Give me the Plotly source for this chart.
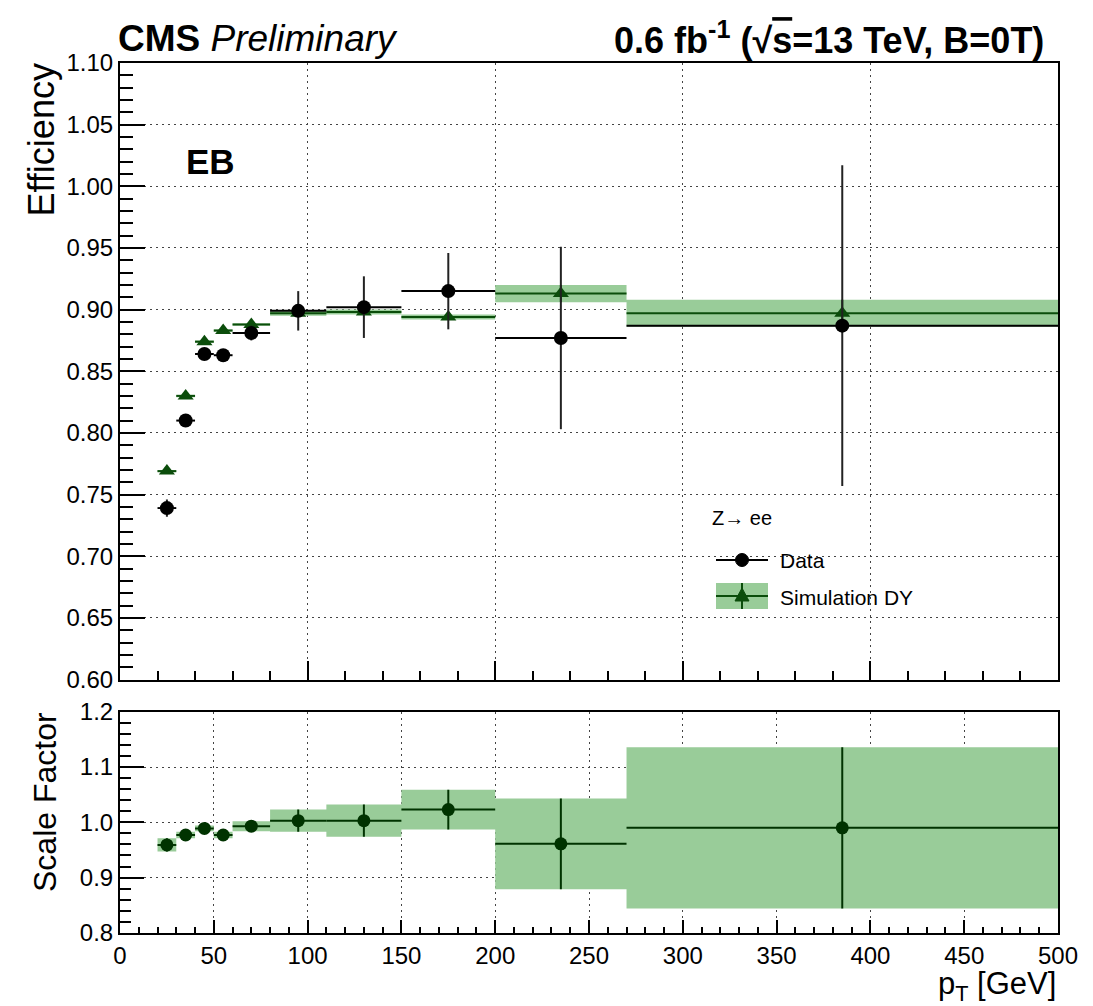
import plotly.graph_objects as go

# ---- pT binning (GeV) ----
bin_lo = [20, 30, 40, 50, 60, 80, 110, 150, 200, 270]
bin_hi = [30, 40, 50, 60, 80, 110, 150, 200, 270, 500]

# ---- efficiencies ----
eff_data = [0.739, 0.810, 0.864, 0.863, 0.881, 0.899, 0.902, 0.915, 0.877, 0.887]
eff_data_err = [0.007, 0.003, 0.003, 0.003, 0.006, 0.016, 0.025, 0.031, 0.074, 0.130]
eff_mc = [0.769, 0.830, 0.874, 0.883, 0.888, 0.897, 0.898, 0.894, 0.913, 0.897]
eff_mc_err = [0.001, 0.001, 0.001, 0.001, 0.001, 0.002, 0.002, 0.002, 0.007, 0.011]

# ---- data/simulation scale factors ----
sf = [0.959, 0.977, 0.989, 0.977, 0.993, 1.003, 1.003, 1.023, 0.961, 0.990]
sf_err = [0.012, 0.006, 0.005, 0.006, 0.009, 0.020, 0.029, 0.036, 0.082, 0.146]

W, H = 1093, 1006
FONT = "Liberation Sans, Arial, Helvetica, sans-serif"
BAND = "#99cc99"
MC_COL = "#0b4d0b"
SF_COL = "#003300"


def px(x):
    return x / W


def py(y):
    return 1 - y / H


centers = [(a + b) / 2 for a, b in zip(bin_lo, bin_hi)]
half_w = [(b - a) / 2 for a, b in zip(bin_lo, bin_hi)]


def band_xy(vals, errs):
    xs, ys = [], []
    for lo, hi, v, e in zip(bin_lo, bin_hi, vals, errs):
        xs += [lo, hi, hi, lo, lo, None]
        ys += [v - e, v - e, v + e, v + e, v - e, None]
    return xs, ys


fig = go.Figure()

# simulation uncertainty band (top)
bx, by = band_xy(eff_mc, eff_mc_err)
fig.add_trace(go.Scatter(x=bx, y=by, mode="lines", fill="toself", fillcolor=BAND,
                         line=dict(width=0), hoverinfo="skip", showlegend=False,
                         xaxis="x", yaxis="y"))

# simulation points
fig.add_trace(go.Scatter(
    x=centers, y=eff_mc, mode="markers",
    marker=dict(symbol="triangle-up", size=14, color=MC_COL),
    error_x=dict(type="data", array=half_w, width=0, thickness=2, color=MC_COL),
    error_y=dict(type="data", array=eff_mc_err, width=0, thickness=2, color=MC_COL),
    showlegend=False, xaxis="x", yaxis="y"))

# data points
fig.add_trace(go.Scatter(
    x=centers, y=eff_data, mode="markers",
    marker=dict(symbol="circle", size=14, color="black"),
    error_x=dict(type="data", array=half_w, width=0, thickness=2, color="black"),
    error_y=dict(type="data", array=eff_data_err, width=0, thickness=2, color="#222222"),
    showlegend=False, xaxis="x", yaxis="y"))

# scale factor band + points (bottom)
sx, sy = band_xy(sf, sf_err)
fig.add_trace(go.Scatter(x=sx, y=sy, mode="lines", fill="toself", fillcolor=BAND,
                         line=dict(width=0), hoverinfo="skip", showlegend=False,
                         xaxis="x2", yaxis="y2"))
fig.add_trace(go.Scatter(
    x=centers, y=sf, mode="markers",
    marker=dict(symbol="circle", size=13, color=SF_COL),
    error_x=dict(type="data", array=half_w, width=0, thickness=2, color=SF_COL),
    error_y=dict(type="data", array=sf_err, width=0, thickness=2, color=SF_COL),
    showlegend=False, xaxis="x2", yaxis="y2"))

XDOM = [px(120), px(1058)]
TOP_DOM = [py(679.5), py(63)]
BOT_DOM = [py(932.8), py(711.8)]

common = dict(showline=True, linecolor="black", linewidth=2, mirror=True,
              ticks="inside", tickcolor="black", tickwidth=1.5, automargin=False,
              showgrid=True, gridcolor="#444444", gridwidth=1.2, griddash="2px,4px",
              zeroline=False, tickfont=dict(family=FONT, size=24, color="black"))

fig.update_layout(
    width=W, height=H, autosize=False,
    margin=dict(l=0, r=0, t=0, b=0, pad=0, autoexpand=False),
    paper_bgcolor="white", plot_bgcolor="white",
    font=dict(family=FONT, color="black"),
    xaxis=dict(domain=XDOM, range=[0, 500], anchor="y", showticklabels=False,
               tick0=0, dtick=100, ticklen=19,
               minor=dict(dtick=20, ticklen=9, ticks="inside", tickcolor="black", showgrid=False),
               **common),
    yaxis=dict(domain=TOP_DOM, range=[0.60, 1.10], anchor="x", tick0=0.6, dtick=0.05,
               tickformat=".2f", ticklen=25,
               minor=dict(dtick=0.01, ticklen=13, ticks="inside", tickcolor="black", showgrid=False),
               **common),
    xaxis2=dict(domain=XDOM, range=[0, 500], anchor="y2", tick0=0, dtick=50, ticklen=13,
                minor=dict(dtick=10, ticklen=6, ticks="inside", tickcolor="black", showgrid=False),
                **common),
    yaxis2=dict(domain=BOT_DOM, range=[0.8, 1.2], anchor="x2", tick0=0.8, dtick=0.1,
                tickformat=".1f", ticklen=24,
                minor=dict(dtick=0.02, ticklen=11, ticks="inside", tickcolor="black", showgrid=False),
                **common),
)

ann = []


def text(t, x, y, size, xanchor="left", yanchor="middle", angle=0):
    ann.append(dict(text=t, x=px(x), y=py(y), xref="paper", yref="paper",
                    xanchor=xanchor, yanchor=yanchor, textangle=angle, showarrow=False,
                    font=dict(family=FONT, size=size, color="black")))


text("<b>CMS</b> <i>Preliminary</i>", 116, 38, 37)
text("<b>0.6 fb<sup>-1</sup> (\u221a<span style=\"text-decoration:overline\">s</span>=13 TeV, B=0T)</b>",
     1046, 38, 36, xanchor="right")
text("<b>EB</b>", 184, 162, 35)
text("Efficiency", 41, 62, 36, xanchor="center", yanchor="top", angle=-90)
text("Scale Factor", 45, 802, 32, xanchor="center", angle=-90)
text("p<sub>T</sub> [GeV]", 1058, 986, 31, xanchor="right")
text("Z\u2192 ee", 710, 518, 20)
text("Data", 778, 560, 21)
text("Simulation DY", 778, 597, 21)
fig.update_layout(annotations=ann)

# legend glyphs
shapes = [
    dict(type="line", x0=px(716), x1=px(768), y0=py(560), y1=py(560),
         line=dict(color="black", width=2)),
    dict(type="circle", x0=px(735.5), x1=px(748.5), y0=py(566.5), y1=py(553.5),
         fillcolor="black", line=dict(color="black", width=1)),
    dict(type="rect", x0=px(716), x1=px(768), y0=py(609), y1=py(583),
         fillcolor=BAND, line=dict(width=0)),
    dict(type="line", x0=px(716), x1=px(768), y0=py(596), y1=py(596),
         line=dict(color=MC_COL, width=2)),
    dict(type="line", x0=px(742), x1=px(742), y0=py(583), y1=py(609),
         line=dict(color=MC_COL, width=2)),
    dict(type="path",
         path=f"M {px(742)} {py(588)} L {px(749)} {py(601)} L {px(735)} {py(601)} Z",
         fillcolor=MC_COL, line=dict(color=MC_COL, width=1)),
]
for s in shapes:
    s.update(xref="paper", yref="paper")
fig.update_layout(shapes=shapes)

fig.write_html("out.html")
